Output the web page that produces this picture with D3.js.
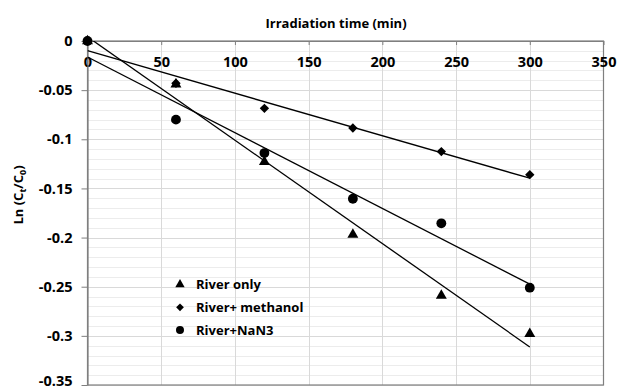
<!DOCTYPE html>
<html><head><meta charset="utf-8">
<script src="https://cdn.jsdelivr.net/npm/d3@7"></script>
<style>body{margin:0;background:#fff;}svg{display:block;font-family:"Open Sans",Calibri,sans-serif;}</style>
</head><body><svg id="c" width="617" height="391"></svg>
<script>
const times = [0, 60, 120, 180, 240, 300];
const riverOnly = [0, -0.044, -0.123, -0.197, -0.259, -0.298];
const riverMethanol = [0, -0.043, -0.0685, -0.0885, -0.1125, -0.136];
const riverNaN3 = [0, -0.080, -0.114, -0.1605, -0.1855, -0.251];
const seriesNames = ["River only", "River+ methanol", "River+NaN3"];
const xTicks = [0, 50, 100, 150, 200, 250, 300, 350];
const yTicks = [0, -0.05, -0.1, -0.15, -0.2, -0.25, -0.3, -0.35];

const svg = d3.select("#c");
const x = d3.scaleLinear().domain([0, 350]).range([87.5, 603.5]);
const y = d3.scaleLinear().domain([0, -0.35]).range([41, 385]);

svg.append("defs").append("clipPath").attr("id", "pa").append("rect")
  .attr("x", x(0)).attr("y", y(0)).attr("width", x(350) - x(0)).attr("height", y(-0.35) - y(0));

// grid
const g = svg.append("g");
const minor = d3.range(0, 36).map(i => -i * 0.01);
g.selectAll(".hm").data(minor).join("line")
  .attr("x1", x(0)).attr("x2", x(350))
  .attr("y1", d => Math.round(y(d)) + 0.5).attr("y2", d => Math.round(y(d)) + 0.5)
  .attr("stroke", d => (Math.round(-d * 100) % 5 === 0) ? "#d9d9d9" : "#ececec").attr("stroke-width", 1);
g.selectAll(".vm").data(xTicks.slice(1, -1)).join("line")
  .attr("x1", d => Math.round(x(d)) + 0.5).attr("x2", d => Math.round(x(d)) + 0.5)
  .attr("y1", y(0)).attr("y2", y(-0.35))
  .attr("stroke", "#d9d9d9");

// border
svg.append("rect").attr("x", x(0)).attr("y", y(0)).attr("width", x(350) - x(0)).attr("height", y(-0.35) - y(0))
  .attr("fill", "none").attr("stroke", "#7f7f7f").attr("stroke-width", 1.2);

// axes
const xAxis = d3.axisTop(x).tickValues(xTicks).tickSizeInner(-4).tickSizeOuter(0).tickFormat(d3.format("d"));
const xg = svg.append("g").attr("transform", `translate(0,${y(0)})`).call(xAxis);
xg.select(".domain").attr("stroke", "#7f7f7f").attr("stroke-width", 1.2);
xg.selectAll(".tick line").attr("stroke", "#7f7f7f");
xg.selectAll(".tick text").attr("y", 21).attr("dy", "0.35em")
  .attr("font-size", 14.5).attr("font-weight", "bold").attr("fill", "#000").attr("font-family", "'Open Sans',sans-serif");

const yAxis = d3.axisLeft(y).tickValues(yTicks).tickSize(6).tickSizeOuter(0).tickFormat(d => d === 0 ? "0" : String(+d.toFixed(2)));
const yg = svg.append("g").attr("transform", `translate(${x(0)},0)`).call(yAxis);
yg.select(".domain").attr("stroke", "#7f7f7f").attr("stroke-width", 1.2);
yg.selectAll(".tick line").attr("stroke", "#7f7f7f");
yg.selectAll(".tick text").attr("x", -15).attr("dy", d => d === -0.35 ? "0.05em" : "0.32em")
  .attr("font-size", 14.5).attr("font-weight", "bold").attr("fill", "#000").attr("font-family", "'Open Sans',sans-serif");

// titles
svg.append("text").attr("x", 336).attr("y", 23).attr("dy", "0.35em").attr("text-anchor", "middle")
  .attr("font-size", 13).attr("font-weight", "bold").text("Irradiation time (min)");
const yl = svg.append("text").attr("transform", "translate(18,195) rotate(-90)").attr("text-anchor", "middle")
  .attr("dy", "0.35em").attr("font-size", 13).attr("font-weight", "bold");
yl.append("tspan").text("Ln (C");
yl.append("tspan").attr("font-size", 9).attr("dy", "3").text("t");
yl.append("tspan").attr("dy", "-3").text("/C");
yl.append("tspan").attr("font-size", 9).attr("dy", "3").text("0");
yl.append("tspan").attr("dy", "-3").text(")");

// trendlines (least squares, as the chart's linear trendlines)
function fit(vals) {
  const mx = d3.mean(times), my = d3.mean(vals);
  const sxy = d3.sum(times, (t, i) => (t - mx) * (vals[i] - my));
  const sxx = d3.sum(times, t => (t - mx) * (t - mx));
  const b = sxy / sxx, a = my - b * mx;
  return [[0, a], [300, a + b * 300]];
}
const allSeries = [riverOnly, riverMethanol, riverNaN3];
const line = d3.line().x(d => x(d[0])).y(d => y(d[1]));
const tl = svg.append("g").attr("clip-path", "url(#pa)");
allSeries.forEach(s => {
  tl.append("path").attr("d", line(fit(s))).attr("stroke", "#000").attr("stroke-width", 1.3).attr("fill", "none");
});

// markers
const symbols = [d3.symbolTriangle, d3.symbolDiamond2, d3.symbolCircle];
const sizes = [52, 56, 76];
allSeries.forEach((s, k) => {
  svg.append("g").selectAll("path").data(times.map((t, i) => [t, s[i]])).join("path")
    .attr("transform", d => `translate(${x(d[0])},${y(d[1])})`)
    .attr("d", d3.symbol().type(symbols[k]).size(sizes[k]))
    .attr("fill", "#000");
});

// legend
const lg = svg.append("g");
seriesNames.forEach((n, k) => {
  const cy = 284.5 + k * 22.8;
  lg.append("path").attr("transform", `translate(180,${cy})`).attr("d", d3.symbol().type(symbols[k]).size(k === 2 ? 50 : 38)).attr("fill", "#000");
  lg.append("text").attr("x", 196).attr("y", cy).attr("dy", "0.35em").attr("font-size", 13).attr("font-weight", "bold").text(n);
});
</script></body></html>
